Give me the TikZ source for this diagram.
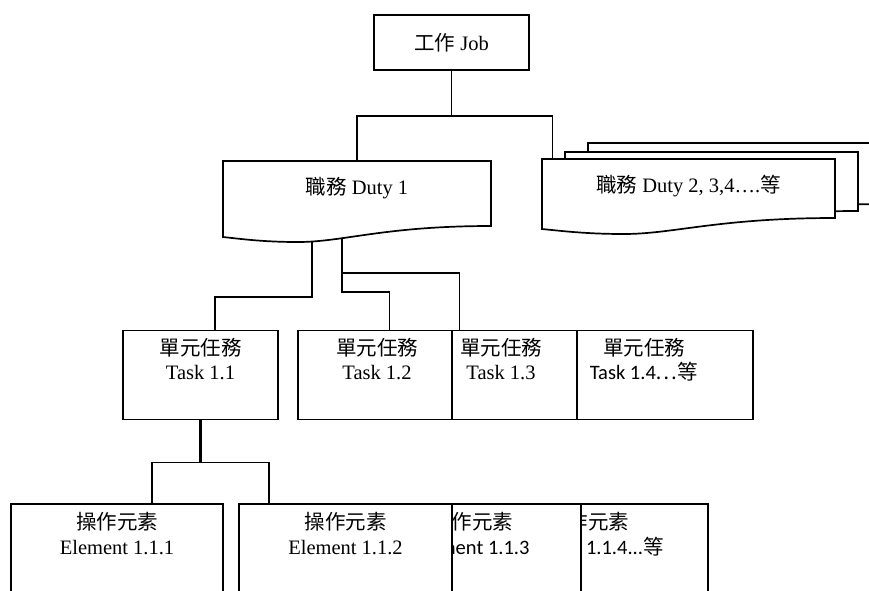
\documentclass[tikz,border=0pt]{standalone}
\usepackage{fontspec}
\setmainfont{Liberation Serif}
\newfontfamily\zhfont{Noto Sans CJK TC}
\newfontfamily\calfont{Carlito}
\usetikzlibrary{calc, positioning}
\newcommand{\zh}[1]{{\zhfont #1}}
\tikzset{
  link/.style={draw=black, line width=1.7pt},
  boxnode/.style={draw=black, fill=white, line width=1.7pt, rectangle, inner sep=0pt},
  boxtext/.style={align=center, inner sep=0pt, anchor=north, font=\fontsize{20.5}{24.5}\selectfont},
  dutytext/.style={inner sep=0pt, anchor=north, text height=33pt, text depth=0pt, font=\fontsize{20.5}{24.5}\selectfont},
}
\newcommand{\dutydoc}[6]{%
  \begin{scope}[shift={(#1,#2)}]
    \draw[boxnode] (0,0) -- (#3,0) -- (#3,#4)
      .. controls (0.6*#3,#4) and (0.45*#3,#4+16) .. (0.28*#3,#4+16)
      .. controls (0.15*#3,#4+16) and (0.07*#3,#4+13) .. (0,#4+11) -- cycle;
    \node[dutytext, minimum width=#3] (#5) at (0.5*#3,0) {#6};
  \end{scope}%
}

\begin{document}
\begin{tikzpicture}[x=1pt, y=-1pt]
  \useasboundingbox (0,0) rectangle (869,590);
  \clip (0,0) rectangle (869,590);

  % Job
  \node[boxnode, boxtext, anchor=center, minimum width=155, minimum height=55] (job) at (451.5,42.5) {\zh{工作} Job};

  % Duties (stack of pages on the right)
  \dutydoc{588}{143}{300}{61}{duty2c}{}
  \dutydoc{565}{152}{293}{59}{duty2b}{}
  \dutydoc{542}{159}{293}{59}{duty2}{\zh{職務} Duty 2, 3,4….\zh{等}}
  \dutydoc{223}{161}{268}{65}{duty1}{\zh{職務} Duty 1}

  \draw[link] (job.south) -- ++(0,45) -| (duty1.north);
  \draw[link] (job.south) -- ++(0,45) -| ([xshift=-136pt]duty2.north);

  % Tasks
  \node[boxnode, minimum width=176, minimum height=89] (task14) at (665,375) {};
  \node[boxtext] (task14txt) at ($(task14.north)+(-21,8)$) {\zh{單元任務}\\{\calfont Task 1.4}\zh{⋯等}};
  \node[boxnode, minimum width=125, minimum height=89] (task13) at (514.5,375) {};
  \node[boxtext] (task13txt) at ($(task13.north)+(-13.5,8)$) {\zh{單元任務}\\Task 1.3};
  \node[boxnode, minimum width=154, minimum height=89] (task12) at (375,375) {};
  \node[boxtext] (task12txt) at ($(task12.north)+(2,8)$) {\zh{單元任務}\\Task 1.2};
  \node[boxnode, minimum width=155, minimum height=89] (task11) at (200.5,375) {};
  \node[boxtext] (task11txt) at ($(task11.north)+(0,8)$) {\zh{單元任務}\\Task 1.1};

  \coordinate (d1a) at (312,242);
  \coordinate (d1b) at (342,239);
  \draw[link] (d1a) -- ++(0,55) -| ([xshift=14.5pt]task11.north);
  \draw[link] (d1b) -- ++(0,53) -| ([xshift=14.5pt]task12.north);
  \draw[link] (d1b) -- ++(0,34) -| ([xshift=-55pt]task13.north);

  % Elements (cut off at the bottom)
  \node[boxnode, minimum width=127, minimum height=100] (el114) at (644.5,554) {};
  \node[boxtext] (el114txt) at ($(el114.north)+(-56.5,9)$) {\zh{操作元素}\\{\calfont Element 1.1.4...}\zh{等}};
  \node[boxnode, minimum width=129, minimum height=100] (el113) at (516.5,554) {};
  \node[boxtext] (el113txt) at ($(el113.north)+(-44.5,9)$) {\zh{操作元素}\\{\calfont Element 1.1.3}};
  \node[boxnode, minimum width=213, minimum height=100] (el112) at (345.5,554) {};
  \node[boxtext] (el112txt) at ($(el112.north)+(0,9)$) {\zh{操作元素}\\Element 1.1.2};
  \node[boxnode, minimum width=212, minimum height=100] (el111) at (117,554) {};
  \node[boxtext] (el111txt) at ($(el111.north)+(0,9)$) {\zh{操作元素}\\Element 1.1.1};

  \draw[link, line width=2.8pt] (task11.south) -- ++(0,42) coordinate (elsplit);
  \draw[link] (elsplit) -| ([xshift=35pt]el111.north);
  \draw[link] (elsplit) -| ([xshift=-76.5pt]el112.north);
\end{tikzpicture}
\end{document}
